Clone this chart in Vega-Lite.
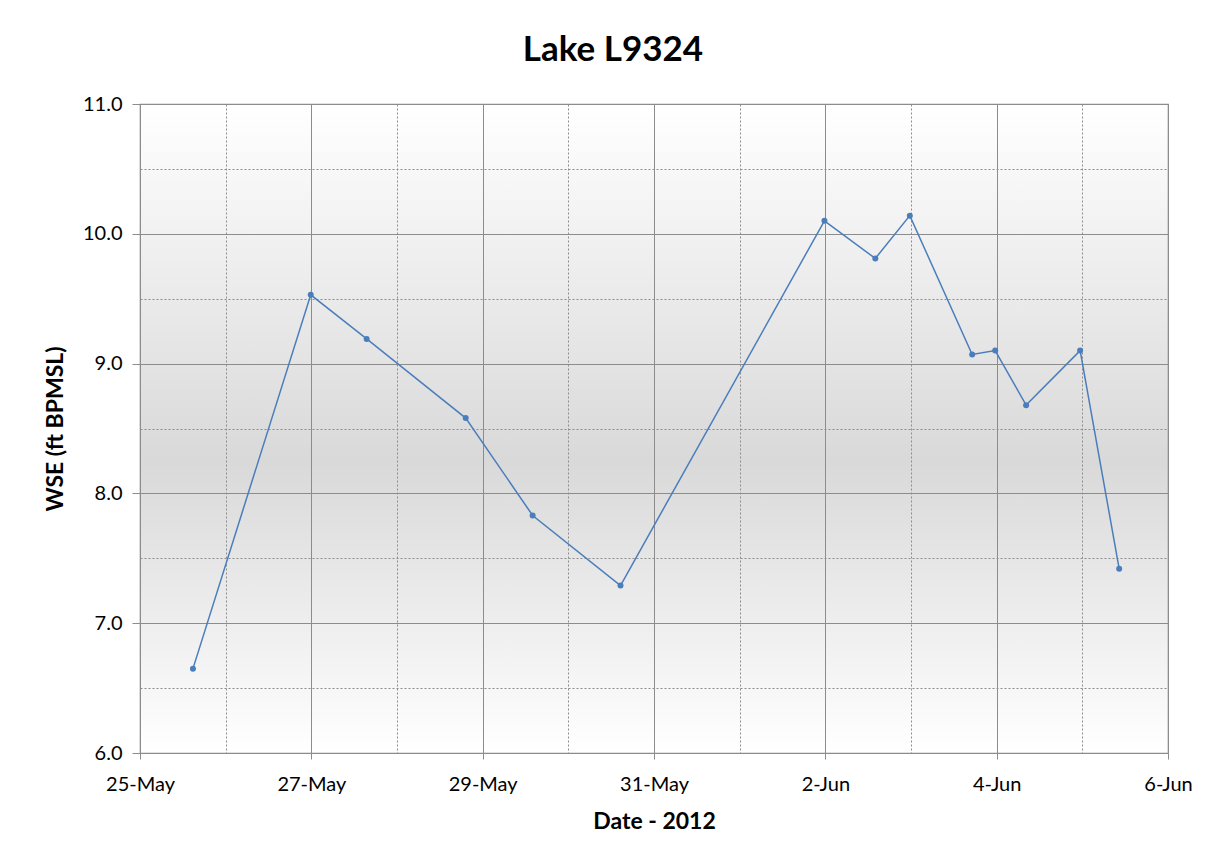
{
  "$schema": "https://vega.github.io/schema/vega-lite/v6.json",
  "autosize": {"type": "none"},
  "width": 1028,
  "height": 649,
  "padding": {"left": 140, "top": 104, "right": 49, "bottom": 110},
  "background": "white",
  "title": {
    "text": "Lake L9324",
    "font": "Lato",
    "fontSize": 35,
    "fontWeight": "bold",
    "color": "black",
    "anchor": "middle",
    "offset": 26,
    "dx": -41
  },
  "config": {
    "view": {
      "stroke": "#8c8c8c",
      "strokeWidth": 1.2,
      "fill": {
        "gradient": "linear",
        "x1": 0, "y1": 0, "x2": 0, "y2": 1,
        "stops": [
          {"offset": 0, "color": "#ffffff"},
          {"offset": 0.55, "color": "#d9d9d9"},
          {"offset": 1, "color": "#ffffff"}
        ]
      }
    },
    "axis": {
      "labelFont": "Lato",
      "labelFontSize": 20,
      "labelColor": "black",
      "titleFont": "Lato",
      "titleFontSize": 23,
      "titleFontWeight": "bold",
      "titleColor": "black",
      "domainColor": "#8c8c8c",
      "tickColor": "#8c8c8c",
      "gridColor": "#8c8c8c",
      "gridOpacity": 1,
      "gridWidth": 1
    }
  },
  "data": {
    "values": [
      {"date": "2012-05-25T14:50:00", "wse": 6.65},
      {"date": "2012-05-26T23:50:00", "wse": 9.53},
      {"date": "2012-05-27T15:30:00", "wse": 9.19},
      {"date": "2012-05-28T19:15:00", "wse": 8.58},
      {"date": "2012-05-29T14:00:00", "wse": 7.83},
      {"date": "2012-05-30T14:37:00", "wse": 7.29},
      {"date": "2012-06-01T23:45:00", "wse": 10.10},
      {"date": "2012-06-02T14:00:00", "wse": 9.81},
      {"date": "2012-06-02T23:40:00", "wse": 10.14},
      {"date": "2012-06-03T17:08:00", "wse": 9.07},
      {"date": "2012-06-03T23:35:00", "wse": 9.10},
      {"date": "2012-06-04T08:15:00", "wse": 8.68},
      {"date": "2012-06-04T23:23:00", "wse": 9.10},
      {"date": "2012-06-05T10:19:00", "wse": 7.42}
    ]
  },
  "encoding": {
    "x": {
      "field": "date",
      "type": "temporal",
      "title": "Date - 2012",
      "scale": {
        "domain": [
          {"year": 2012, "month": 5, "date": 25},
          {"year": 2012, "month": 6, "date": 6}
        ],
        "nice": false
      },
      "axis": {
        "values": [
          {"year": 2012, "month": 5, "date": 25},
          {"year": 2012, "month": 5, "date": 26},
          {"year": 2012, "month": 5, "date": 27},
          {"year": 2012, "month": 5, "date": 28},
          {"year": 2012, "month": 5, "date": 29},
          {"year": 2012, "month": 5, "date": 30},
          {"year": 2012, "month": 5, "date": 31},
          {"year": 2012, "month": 6, "date": 1},
          {"year": 2012, "month": 6, "date": 2},
          {"year": 2012, "month": 6, "date": 3},
          {"year": 2012, "month": 6, "date": 4},
          {"year": 2012, "month": 6, "date": 5},
          {"year": 2012, "month": 6, "date": 6}
        ],
        "labelExpr": "round((datum.value - datetime(2012,4,25)) / 86400000) % 2 == 1 ? '' : timeFormat(datum.value, '%-d-%b')",
        "labelFlush": false,
        "labelOverlap": false,
        "labelPadding": 15,
        "tickSize": 6,
        "tickOpacity": {
          "condition": {"test": "round((datum.value - datetime(2012,4,25)) / 86400000) % 2 == 1", "value": 0},
          "value": 1
        },
        "gridDash": {
          "condition": {"test": "round((datum.value - datetime(2012,4,25)) / 86400000) % 2 == 1", "value": [2, 2]},
          "value": []
        },
        "titlePadding": 16
      }
    },
    "y": {
      "field": "wse",
      "type": "quantitative",
      "title": "WSE (ft BPMSL)",
      "scale": {"domain": [6, 11], "nice": false, "zero": false},
      "axis": {
        "values": [6, 6.5, 7, 7.5, 8, 8.5, 9, 9.5, 10, 10.5, 11],
        "labelExpr": "datum.value % 1 != 0 ? '' : format(datum.value, '.1f')",
        "labelPadding": 10,
        "tickSize": 8,
        "tickOpacity": {
          "condition": {"test": "datum.value % 1 != 0", "value": 0},
          "value": 1
        },
        "gridDash": {
          "condition": {"test": "datum.value % 1 != 0", "value": [2, 2]},
          "value": []
        },
        "titlePadding": 15
      }
    }
  },
  "layer": [
    {"mark": {"type": "line", "color": "#4a7ebb", "strokeWidth": 1.5}},
    {"mark": {"type": "point", "filled": true, "color": "#4a7ebb", "opacity": 1, "size": 36}}
  ]
}
